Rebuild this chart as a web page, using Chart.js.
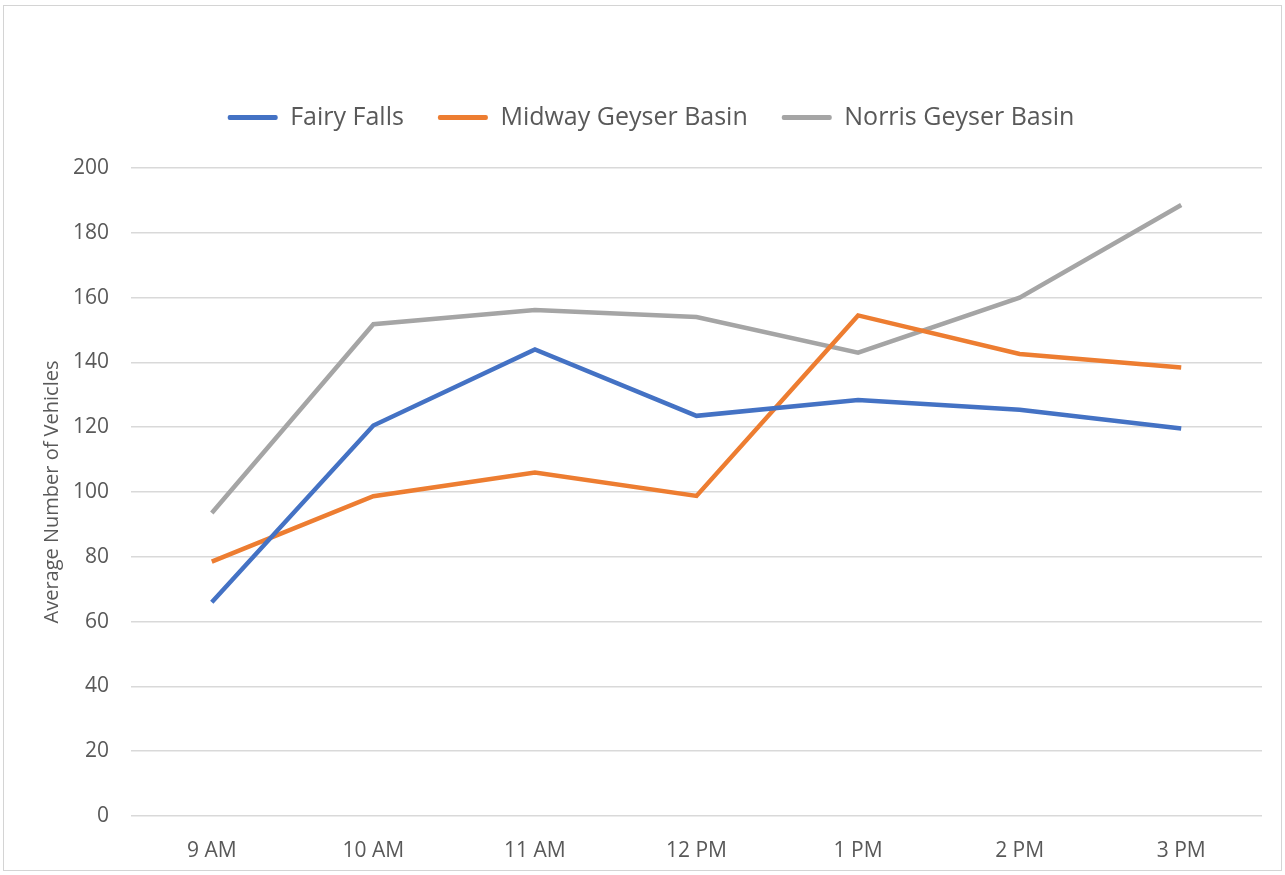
<!DOCTYPE html>
<html>
<head>
<meta charset="utf-8">
<script src="https://cdn.jsdelivr.net/npm/chart.js@4.4.0/dist/chart.umd.min.js"></script>
<style>
  html, body { margin: 0; padding: 0; background: #fff; }
  #wrap { position: relative; width: 1285px; height: 875px; }
  #frame { position: absolute; left: 3px; top: 5px; width: 1277px; height: 864px; border: 1.5px solid #d4d4d4; pointer-events: none; }
</style>
</head>
<body>
<div id="wrap"><canvas id="vehiclesChart"></canvas><div id="frame"></div></div>
<script>
// hourly averages per site
var hourLabels = ['9 AM', '10 AM', '11 AM', '12 PM', '1 PM', '2 PM', '3 PM'];
var fairyFalls = [66, 120.5, 144, 123.5, 128.4, 125.4, 119.6];
var midwayGeyser = [78.5, 98.7, 106, 98.8, 154.5, 142.6, 138.4];
var norrisGeyser = [93.5, 151.8, 156.2, 154, 143, 160, 188.6];

var fontFamily = "'Open Sans', 'Noto Sans', sans-serif";
var textColor = '#595959';
var gridColor = '#d9d9d9';

function makeSeries(label, values, color) {
    return {
        label: label,
        data: values,
        borderColor: color,
        backgroundColor: color,
        borderWidth: 4.5,
        pointRadius: 0,
        tension: 0,
        fill: false
    };
}

// push the plot area down below the legend
var legendSpacer = {
    id: 'legendSpacer',
    beforeInit: function(chart) {
        var origFit = chart.legend.fit;
        chart.legend.fit = function() {
            origFit.bind(chart.legend)();
            this.height += 28;
        };
    }
};

var ctx = document.getElementById('vehiclesChart');
var myLineChart = new Chart(ctx, {
    type: 'line',
    data: {
        labels: hourLabels,
        datasets: [
            makeSeries('Fairy Falls', fairyFalls, '#4472C4'),
            makeSeries('Midway Geyser Basin', midwayGeyser, '#ED7D31'),
            makeSeries('Norris Geyser Basin', norrisGeyser, '#A5A5A5')
        ]
    },
    options: {
        responsive: true,
        maintainAspectRatio: false,
        animation: false,
        layout: { padding: { top: 71, left: 40, right: 23, bottom: 0 } },
        plugins: {
            tooltip: { enabled: false },
            legend: {
                position: 'top',
                labels: {
                    color: textColor,
                    font: { family: fontFamily, size: 25 },
                    boxWidth: 50,
                    boxHeight: 5,
                    padding: 34,
                    generateLabels: function(chart) {
                        return chart.data.datasets.map(function(ds, i) {
                            return {
                                text: ds.label,
                                fillStyle: ds.borderColor,
                                strokeStyle: ds.borderColor,
                                lineWidth: 0,
                                borderRadius: 2,
                                fontColor: textColor,
                                datasetIndex: i
                            };
                        });
                    }
                }
            }
        },
        scales: {
            x: {
                offset: true,
                grid: { display: false, drawTicks: false },
                border: { display: false },
                ticks: {
                    color: textColor,
                    font: { family: fontFamily, size: 21 },
                    padding: 22,
                    maxRotation: 0
                },
                afterFit: function(scale) { scale.height = 59; }
            },
            y: {
                min: 0,
                max: 200,
                grid: { color: gridColor, lineWidth: 1.5, drawTicks: false },
                border: { display: false },
                ticks: {
                    stepSize: 20,
                    color: textColor,
                    font: { family: fontFamily, size: 21 },
                    padding: 22
                },
                title: {
                    display: true,
                    text: 'Average Number of Vehicles',
                    color: textColor,
                    font: { family: fontFamily, size: 20 },
                    padding: { top: 0, bottom: 0 }
                },
                afterFit: function(scale) { scale.width = 91; }
            }
        }
    },
    plugins: [legendSpacer]
});
</script>
</body>
</html>
